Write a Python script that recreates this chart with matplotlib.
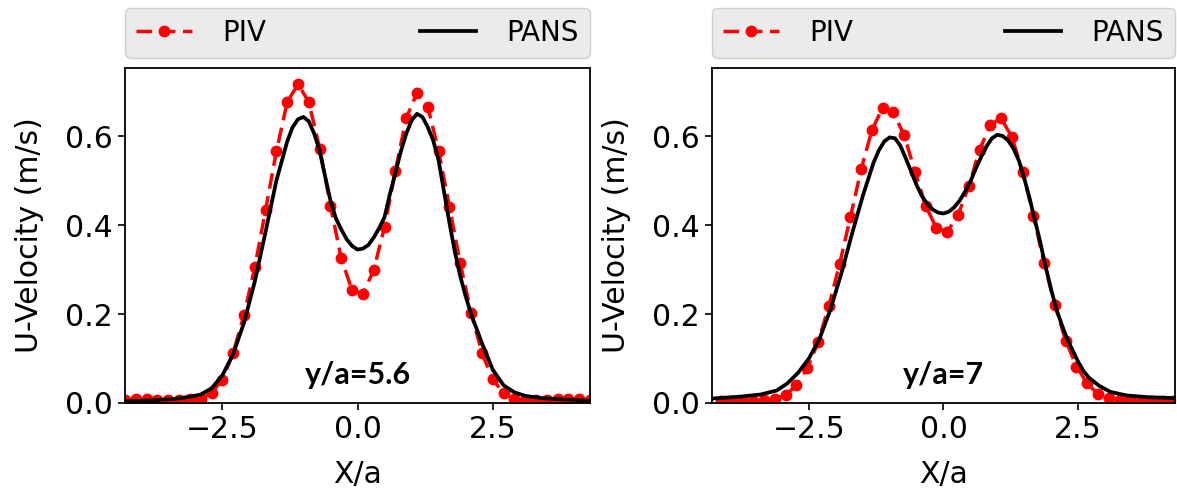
import matplotlib.pyplot as plt

# --- data ---
# y/a = 5.6
piv_x_56 = [-4.3, -4.1, -3.9, -3.7, -3.5, -3.3, -3.1, -2.9, -2.7, -2.5, -2.3, -2.1,
            -1.9, -1.7, -1.5, -1.3, -1.1, -0.9, -0.7, -0.5, -0.3, -0.1, 0.1, 0.3,
            0.5, 0.7, 0.9, 1.1, 1.3, 1.5, 1.7, 1.9, 2.1, 2.3, 2.5, 2.7, 2.9, 3.1,
            3.3, 3.5, 3.7, 3.9, 4.1, 4.3]
piv_u_56 = [0.007, 0.008, 0.008, 0.007, 0.007, 0.007, 0.008, 0.009, 0.023, 0.052, 0.112, 0.198,
            0.305, 0.434, 0.566, 0.676, 0.717, 0.676, 0.572, 0.443, 0.325, 0.253, 0.245, 0.299,
            0.396, 0.522, 0.640, 0.697, 0.666, 0.566, 0.441, 0.314, 0.203, 0.113, 0.053, 0.022, 0.008, 0.007,
            0.007, 0.007, 0.008, 0.008, 0.008, 0.007]
pans_x_56 = [-4.3, -3.8, -3.4, -3.1, -2.9, -2.7, -2.5, -2.3, -2.1, -1.9, -1.7, -1.5,
             -1.3, -1.2, -1.1, -1.0, -0.9, -0.8, -0.7, -0.6, -0.5, -0.4, -0.3, -0.2,
             -0.1, 0.0, 0.1, 0.2, 0.3, 0.4, 0.5, 0.6, 0.7, 0.8, 0.9, 1.0,
             1.1, 1.2, 1.3, 1.4, 1.5, 1.6, 1.7, 1.8, 1.9, 2.0, 2.1, 2.3,
             2.5, 2.7, 2.9, 3.1, 3.4, 3.8, 4.3]
pans_u_56 = [0.004, 0.006, 0.009, 0.014, 0.019, 0.033, 0.062, 0.110, 0.180, 0.273, 0.385, 0.500,
             0.588, 0.620, 0.638, 0.643, 0.633, 0.605, 0.567, 0.510, 0.455, 0.415, 0.390, 0.368,
             0.353, 0.345, 0.347, 0.355, 0.372, 0.393, 0.418, 0.470, 0.517, 0.565, 0.605, 0.635,
             0.650, 0.643, 0.620, 0.590, 0.545, 0.475, 0.405, 0.340, 0.285, 0.240, 0.200, 0.135,
             0.075, 0.040, 0.024, 0.016, 0.011, 0.008, 0.005]

# y/a = 7
piv_x_7 = [-4.13, -3.93, -3.73, -3.53, -3.33, -3.13, -2.93, -2.73, -2.53, -2.33, -2.13,
           -1.93, -1.73, -1.53, -1.33, -1.13, -0.93, -0.73, -0.53, -0.33, -0.13, 0.07,
           0.27, 0.47, 0.67, 0.87, 1.07, 1.27, 1.47, 1.67, 1.87, 2.07, 2.27,
           2.47, 2.67, 2.87, 3.07, 3.27, 3.47, 3.67, 3.87, 4.07, 4.27]
piv_u_7 = [0.004, 0.004, 0.005, 0.005, 0.006, 0.009, 0.018, 0.040, 0.078, 0.136, 0.218,
           0.312, 0.417, 0.525, 0.613, 0.664, 0.653, 0.602, 0.520, 0.443, 0.393, 0.385,
           0.422, 0.488, 0.569, 0.625, 0.640, 0.598, 0.520, 0.421, 0.314, 0.220, 0.140,
           0.082, 0.044, 0.020, 0.011, 0.007, 0.006, 0.005, 0.005, 0.004, 0.004]
pans_x_7 = [-4.3, -3.8, -3.4, -3.1, -2.9, -2.7, -2.5, -2.3, -2.1, -1.9, -1.7, -1.5,
            -1.3, -1.2, -1.1, -1.0, -0.9, -0.8, -0.7, -0.6, -0.5, -0.4, -0.3, -0.2,
            -0.1, 0.0, 0.1, 0.2, 0.3, 0.4, 0.5, 0.6, 0.7, 0.8, 0.9, 1.0,
            1.1, 1.2, 1.3, 1.4, 1.5, 1.6, 1.7, 1.8, 1.9, 2.0, 2.1, 2.2, 2.3,
            2.5, 2.6, 2.7, 2.9, 3.1, 3.4, 3.8, 4.3]
pans_u_7 = [0.010, 0.014, 0.019, 0.028, 0.044, 0.068, 0.100, 0.145, 0.210, 0.290, 0.380, 0.465,
            0.540, 0.568, 0.588, 0.597, 0.595, 0.578, 0.550, 0.520, 0.490, 0.465, 0.447, 0.435,
            0.428, 0.426, 0.430, 0.440, 0.455, 0.475, 0.498, 0.527, 0.553, 0.577, 0.595, 0.603,
            0.600, 0.590, 0.572, 0.545, 0.505, 0.460, 0.410, 0.360, 0.305, 0.255, 0.210, 0.175, 0.143,
            0.093, 0.072, 0.057, 0.038, 0.025, 0.017, 0.013, 0.011]

panels = [
    (piv_x_56, piv_u_56, pans_x_56, pans_u_56, "y/a=5.6"),
    (piv_x_7, piv_u_7, pans_x_7, pans_u_7, "y/a=7"),
]

plt.rcParams["font.size"] = 21.5

fig = plt.figure(figsize=(11.77, 5.0), dpi=100)
boxes = [[0.1062, 0.194, 0.3951, 0.670], [0.6049, 0.194, 0.3934, 0.670]]

for box, (px, pu, cx, cu, tag) in zip(boxes, panels):
    ax = fig.add_axes(box)
    ax.plot(px, pu, "--o", color="red", lw=2.5, ms=7.5, dashes=(4.5, 2.2), label="PIV")
    ax.plot(cx, cu, "-", color="black", lw=2.7, label="PANS")
    ax.set_xlim(-4.3, 4.3)
    ax.set_ylim(0, 0.753)
    ax.set_xticks([-2.5, 0.0, 2.5])
    ax.set_yticks([0.0, 0.2, 0.4, 0.6])
    ax.set_xlabel("X/a", labelpad=12)
    ax.set_ylabel("U-Velocity (m/s)", labelpad=15)
    for s in ax.spines.values():
        s.set_linewidth(1.3)
    ax.tick_params(width=1.2, length=5)
    ax.text(0.0, 0.064, tag, ha="center", va="center", fontsize=22,
            fontweight="bold", family="Lato")
    leg = ax.legend(loc="lower left", bbox_to_anchor=(0, 1.03, 1, 0.2),
                    mode="expand", ncol=2, borderaxespad=0, fancybox=True,
                    facecolor="#ebebeb", edgecolor="#cfcfcf", framealpha=1,
                    handletextpad=1.1, fontsize=20)

fig.savefig("out.png", dpi=100)
